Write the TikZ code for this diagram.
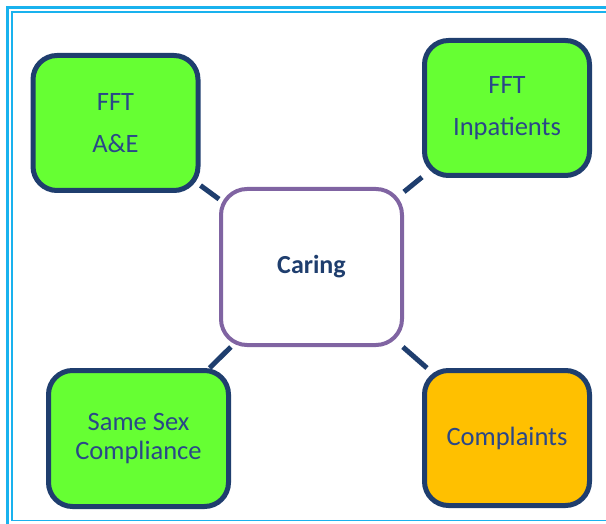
\documentclass[tikz,border=0pt]{standalone}
\usepackage{fontspec}
\setmainfont{Carlito}
\usepackage{tikz}

\definecolor{frameblue}{HTML}{19B2EE}
\definecolor{navy}{HTML}{1F3E6E}
\definecolor{textblue}{HTML}{2A4788}
\definecolor{boxgreen}{HTML}{66FF33}
\definecolor{boxorange}{HTML}{FFC000}
\definecolor{ringpurple}{HTML}{8064A2}

\begin{document}
\begin{tikzpicture}[
		x=1pt,
		y=-1pt,
		font=\fontsize{26.5}{31}\selectfont,
		card/.style={draw=navy, line width=5pt, rounded corners=24pt, align=center,
			text=textblue, minimum width=165pt, minimum height=135pt, inner sep=0pt},
		hub/.style={draw=ringpurple, line width=4pt, rounded corners=26pt, fill=white,
			text=navy, minimum width=181pt, minimum height=156pt, font=\fontsize{26}{31}\selectfont\bfseries},
		link/.style={draw=navy, line width=5pt}
		]
		\useasboundingbox (0,0) rectangle (606,524);
		
		% Frame
		\draw[frameblue, line width=2.5pt] (7.5,7.5) rectangle (640,526);
		\draw[frameblue, line width=1.2pt] (12,12) rectangle (640,520.5);
		
		% Centre
		\node[hub] (caring) at (311.5,267) {Caring};
		
		% Boxes
		\node[card, fill=boxgreen] (ae) at (115.5,123) {FFT\\[11pt]A\&E};
		\node[card, fill=boxgreen] (inpat) at (507,108) {FFT\\[11pt]Inpatients};
		\node[card, fill=boxgreen, minimum width=180pt, minimum height=136pt] (samesex) at (138.5,438.5) {Same Sex\\[-2pt]Compliance};
		\node[card, fill=boxorange] (complaints) at (507,438) {Complaints};
		
		% Links
		\draw[link] (ae) -- (caring);
		\draw[link] (inpat) -- (caring);
		\draw[link] (samesex) -- (caring);
		\draw[link] (complaints) -- (caring);
	\end{tikzpicture}
\end{document}
